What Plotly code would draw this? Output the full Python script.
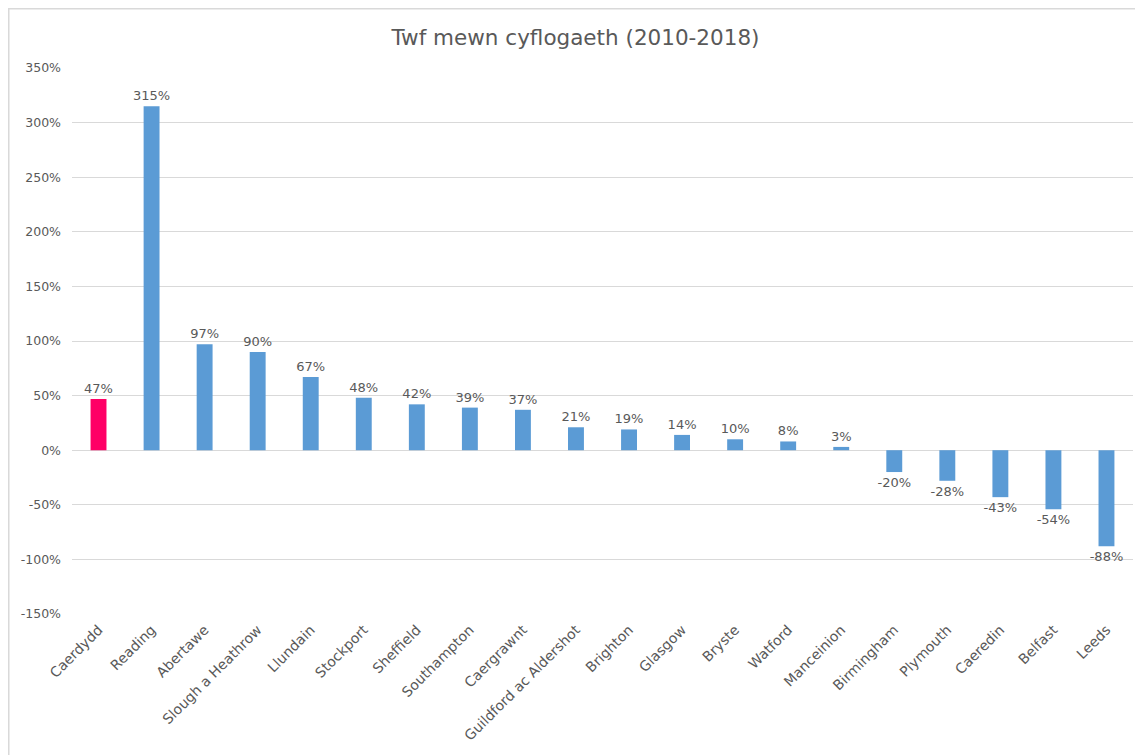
import plotly.graph_objects as go

cities = ["Caerdydd", "Reading", "Abertawe", "Slough a Heathrow", "Llundain",
          "Stockport", "Sheffield", "Southampton", "Caergrawnt",
          "Guildford ac Aldershot", "Brighton", "Glasgow", "Bryste", "Watford",
          "Manceinion", "Birmingham", "Plymouth", "Caeredin", "Belfast", "Leeds"]
growth = [47, 315, 97, 90, 67, 48, 42, 39, 37, 21, 19, 14, 10, 8, 3,
          -20, -28, -43, -54, -88]
y_ticks = [-150, -100, -50, 0, 50, 100, 150, 200, 250, 300, 350]

# Cardiff is picked out in pink, everyone else blue
bar_colors = ["#ff0066" if c == "Caerdydd" else "#5b9bd5" for c in cities]

fig = go.Figure()
fig.add_trace(go.Bar(
    x=cities, y=growth,
    marker=dict(color=bar_colors, line=dict(width=0)),
    text=[f"{v}%" for v in growth],
    textposition="outside",
    constraintext="none",
    textfont=dict(size=13, color="#595959"),
    cliponaxis=False,
))

# the page body has an 8px margin, so the figure is a bit smaller
fig.update_layout(
    width=1135, height=747,
    margin=dict(l=64, r=10, t=60, b=141),
    paper_bgcolor="white", plot_bgcolor="white",
    font=dict(family="DejaVu Sans, sans-serif", color="#595959"),
    title=dict(text="Twf mewn cyflogaeth (2010-2018)", x=0.5, xref="container",
               xanchor="center", y=0.961, yanchor="middle",
               font=dict(size=21.5, color="#595959")),
    bargap=0.7,
    showlegend=False,
)
fig.update_yaxes(
    range=[-150, 350], tickvals=y_ticks,
    ticktext=[f"{v}%" for v in y_ticks],
    gridcolor="#d9d9d9", gridwidth=1, zeroline=True, zerolinecolor="#d9d9d9",
    zerolinewidth=1, showline=False, ticks="", tickfont=dict(size=12.5),
    ticklabelstandoff=10,
)
fig.update_xaxes(
    tickangle=-45, showgrid=False, showline=False, ticks="",
    tickfont=dict(size=14), automargin=False, ticklabelstandoff=4,
)
# chart border, just inside the top/left edge of the figure
fig.add_shape(type="rect", xref="paper", yref="paper",
              x0=-0.0596, x1=1.2, y0=-0.5, y1=1.1085,
              line=dict(color="#d9d9d9", width=1.5), layer="below")

fig.write_html("out.html")
